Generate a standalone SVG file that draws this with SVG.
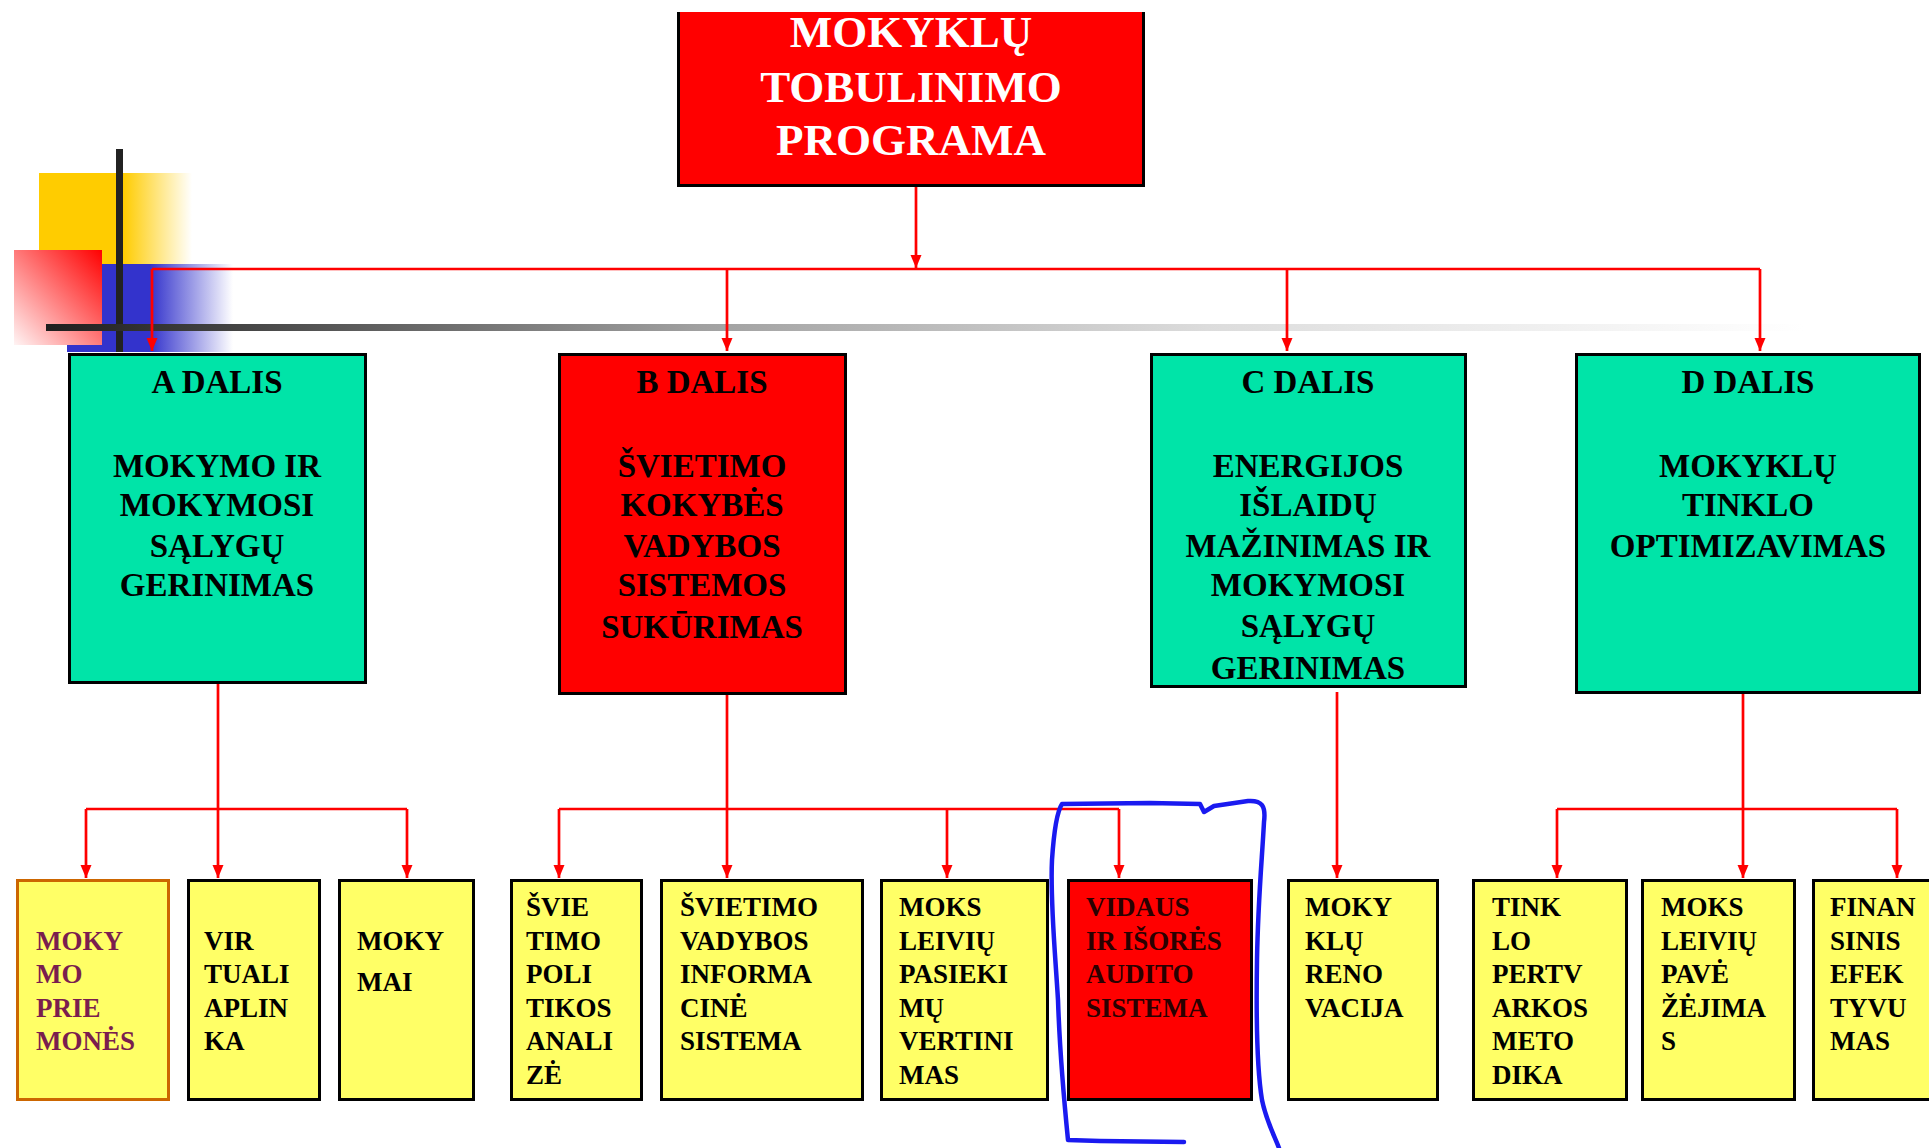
<svg xmlns="http://www.w3.org/2000/svg" width="1929" height="1148" viewBox="0 0 1929 1148">
<defs>
<style>
.box{stroke:#000;stroke-width:3}
.green{fill:#00E4A8}
.red{fill:#FF0000}
.yel{fill:#FFFF66}
.conn{stroke:#FF0000;stroke-width:2.7;fill:none}
.ttl{font-family:"Liberation Serif","Times New Roman",serif;font-weight:bold;font-size:45px;fill:#FFFFFF;text-anchor:middle}
.big{font-family:"Liberation Serif","Times New Roman",serif;font-weight:bold;font-size:33px;fill:#000;text-anchor:middle}
.sm{font-family:"Liberation Serif","Times New Roman",serif;font-weight:bold;font-size:27px;fill:#000}
</style>
<marker id="ah" markerUnits="userSpaceOnUse" markerWidth="12" markerHeight="13" viewBox="0 0 12 13" refX="6" refY="13" orient="0">
<path d="M0.5,0 L11.5,0 L6,13 Z" fill="#FF0000"/>
</marker>
<linearGradient id="gYel" x1="0" y1="0" x2="1" y2="0">
<stop offset="0" stop-color="#FFCC00"/>
<stop offset="0.55" stop-color="#FFCC00"/>
<stop offset="1" stop-color="#FFCC00" stop-opacity="0"/>
</linearGradient>
<linearGradient id="gBlue" x1="0" y1="0" x2="1" y2="0">
<stop offset="0" stop-color="#3333CC"/>
<stop offset="0.5" stop-color="#3333CC"/>
<stop offset="1" stop-color="#3333CC" stop-opacity="0"/>
</linearGradient>
<linearGradient id="gPink" x1="1" y1="0" x2="0" y2="1">
<stop offset="0" stop-color="#FF0000"/>
<stop offset="1" stop-color="#FFF4F4"/>
</linearGradient>
<linearGradient id="gBar" gradientUnits="userSpaceOnUse" x1="46" y1="0" x2="1804" y2="0">
<stop offset="0" stop-color="#1E1E1E"/>
<stop offset="0.37" stop-color="#A0A0A0"/>
<stop offset="0.66" stop-color="#DCDCDC"/>
<stop offset="1" stop-color="#FFFFFF"/>
</linearGradient>
</defs>
<rect width="1929" height="1148" fill="#FFFFFF"/>

<g id="decoration">
<rect x="39" y="173" width="153" height="91" fill="url(#gYel)"/>
<rect x="67" y="264" width="166" height="88" fill="url(#gBlue)"/>
<rect x="14" y="250" width="88" height="95" fill="url(#gPink)"/>
<rect x="116" y="149" width="7" height="203" fill="#222222"/>
<rect x="46" y="324" width="1758" height="7" fill="url(#gBar)"/>
</g>

<g id="connectors">
<path class="conn" d="M916,187 V268" marker-end="url(#ah)"/>
<path class="conn" d="M152,269 H1760"/>
<path class="conn" d="M152,269 V351" marker-end="url(#ah)"/>
<path class="conn" d="M727,269 V351" marker-end="url(#ah)"/>
<path class="conn" d="M1287,269 V351" marker-end="url(#ah)"/>
<path class="conn" d="M1760,269 V351" marker-end="url(#ah)"/>
<path class="conn" d="M218,684 V878" marker-end="url(#ah)"/>
<path class="conn" d="M86,809 H407"/>
<path class="conn" d="M86,809 V878" marker-end="url(#ah)"/>
<path class="conn" d="M407,809 V878" marker-end="url(#ah)"/>
<path class="conn" d="M727,695 V878" marker-end="url(#ah)"/>
<path class="conn" d="M559,809 H1119"/>
<path class="conn" d="M559,809 V878" marker-end="url(#ah)"/>
<path class="conn" d="M947,809 V878" marker-end="url(#ah)"/>
<path class="conn" d="M1119,809 V878" marker-end="url(#ah)"/>
<path class="conn" d="M1337,692 V878" marker-end="url(#ah)"/>
<path class="conn" d="M1743,694 V878" marker-end="url(#ah)"/>
<path class="conn" d="M1557,809 H1897"/>
<path class="conn" d="M1557,809 V878" marker-end="url(#ah)"/>
<path class="conn" d="M1897,809 V878" marker-end="url(#ah)"/>
</g>

<g id="root">
<rect x="677" y="12" width="468" height="175" fill="#FF0000"/>
<path d="M678.5,12 V185.5 H1143.5 V12" fill="none" stroke="#000" stroke-width="3"/>
<text class="ttl"><tspan x="911" y="47">MOKYKLŲ</tspan><tspan x="911" y="102">TOBULINIMO</tspan><tspan x="911" y="155">PROGRAMA</tspan></text>
</g>

<g id="partA">
<rect class="box green" x="69.5" y="354.5" width="296" height="328"/>
<text class="big"><tspan x="217" y="393">A DALIS</tspan><tspan x="217" y="477">MOKYMO IR</tspan><tspan x="217" y="516">MOKYMOSI</tspan><tspan x="217" y="557">SĄLYGŲ</tspan><tspan x="217" y="596">GERINIMAS</tspan></text>
</g>

<g id="partB">
<rect class="box red" x="559.5" y="354.5" width="286" height="339"/>
<text class="big"><tspan x="702" y="393">B DALIS</tspan><tspan x="702" y="477">ŠVIETIMO</tspan><tspan x="702" y="516">KOKYBĖS</tspan><tspan x="702" y="557">VADYBOS</tspan><tspan x="702" y="596">SISTEMOS</tspan><tspan x="702" y="638">SUKŪRIMAS</tspan></text>
</g>

<g id="partC">
<rect class="box green" x="1151.5" y="354.5" width="314" height="332"/>
<text class="big"><tspan x="1308" y="393">C DALIS</tspan><tspan x="1308" y="477">ENERGIJOS</tspan><tspan x="1308" y="516">IŠLAIDŲ</tspan><tspan x="1308" y="557">MAŽINIMAS IR</tspan><tspan x="1308" y="596">MOKYMOSI</tspan><tspan x="1308" y="637">SĄLYGŲ</tspan><tspan x="1308" y="679">GERINIMAS</tspan></text>
</g>

<g id="partD">
<rect class="box green" x="1576.5" y="354.5" width="343" height="338"/>
<text class="big"><tspan x="1748" y="393">D DALIS</tspan><tspan x="1748" y="477">MOKYKLŲ</tspan><tspan x="1748" y="516">TINKLO</tspan><tspan x="1748" y="557">OPTIMIZAVIMAS</tspan></text>
</g>

<g id="a1">
<rect class="yel" x="17.5" y="880.5" width="151" height="219" stroke="#CC6600" stroke-width="3"/>
<text class="sm" style="fill:#7A1E4E"><tspan x="36" y="950">MOKY</tspan><tspan x="36" y="983">MO</tspan><tspan x="36" y="1017">PRIE</tspan><tspan x="36" y="1050">MONĖS</tspan></text>
</g>
<g id="a2">
<rect class="box yel" x="188.5" y="880.5" width="131" height="219"/>
<text class="sm"><tspan x="204" y="950">VIR</tspan><tspan x="204" y="983">TUALI</tspan><tspan x="204" y="1017">APLIN</tspan><tspan x="204" y="1050">KA</tspan></text>
</g>
<g id="a3">
<rect class="box yel" x="339.5" y="880.5" width="134" height="219"/>
<text class="sm"><tspan x="357" y="950">MOKY</tspan><tspan x="357" y="991">MAI</tspan></text>
</g>
<g id="b1">
<rect class="box yel" x="511.5" y="880.5" width="130" height="219"/>
<text class="sm"><tspan x="526" y="916">ŠVIE</tspan><tspan x="526" y="950">TIMO</tspan><tspan x="526" y="983">POLI</tspan><tspan x="526" y="1017">TIKOS</tspan><tspan x="526" y="1050">ANALI</tspan><tspan x="526" y="1084">ZĖ</tspan></text>
</g>
<g id="b2">
<rect class="box yel" x="661.5" y="880.5" width="201" height="219"/>
<text class="sm"><tspan x="680" y="916">ŠVIETIMO</tspan><tspan x="680" y="950">VADYBOS</tspan><tspan x="680" y="983">INFORMA</tspan><tspan x="680" y="1017">CINĖ</tspan><tspan x="680" y="1050">SISTEMA</tspan></text>
</g>
<g id="b3">
<rect class="box yel" x="881.5" y="880.5" width="166" height="219"/>
<text class="sm"><tspan x="899" y="916">MOKS</tspan><tspan x="899" y="950">LEIVIŲ</tspan><tspan x="899" y="983">PASIEKI</tspan><tspan x="899" y="1017">MŲ</tspan><tspan x="899" y="1050">VERTINI</tspan><tspan x="899" y="1084">MAS</tspan></text>
</g>
<g id="b4">
<rect class="box red" x="1068.5" y="880.5" width="183" height="219"/>
<text class="sm" style="fill:#2A0000"><tspan x="1086" y="916">VIDAUS</tspan><tspan x="1086" y="950">IR IŠORĖS</tspan><tspan x="1086" y="983">AUDITO</tspan><tspan x="1086" y="1017">SISTEMA</tspan></text>
</g>
<g id="c1">
<rect class="box yel" x="1288.5" y="880.5" width="149" height="219"/>
<text class="sm"><tspan x="1305" y="916">MOKY</tspan><tspan x="1305" y="950">KLŲ</tspan><tspan x="1305" y="983">RENO</tspan><tspan x="1305" y="1017">VACIJA</tspan></text>
</g>
<g id="d1">
<rect class="box yel" x="1473.5" y="880.5" width="153" height="219"/>
<text class="sm"><tspan x="1492" y="916">TINK</tspan><tspan x="1492" y="950">LO</tspan><tspan x="1492" y="983">PERTV</tspan><tspan x="1492" y="1017">ARKOS</tspan><tspan x="1492" y="1050">METO</tspan><tspan x="1492" y="1084">DIKA</tspan></text>
</g>
<g id="d2">
<rect class="box yel" x="1642.5" y="880.5" width="152" height="219"/>
<text class="sm"><tspan x="1661" y="916">MOKS</tspan><tspan x="1661" y="950">LEIVIŲ</tspan><tspan x="1661" y="983">PAVĖ</tspan><tspan x="1661" y="1017">ŽĖJIMA</tspan><tspan x="1661" y="1050">S</tspan></text>
</g>
<g id="d3">
<rect class="box yel" x="1813.5" y="880.5" width="130" height="219"/>
<text class="sm"><tspan x="1830" y="916">FINAN</tspan><tspan x="1830" y="950">SINIS</tspan><tspan x="1830" y="983">EFEK</tspan><tspan x="1830" y="1017">TYVU</tspan><tspan x="1830" y="1050">MAS</tspan></text>
</g>

<g id="highlight">
<path d="M1184,1142 L1100,1141 L1068,1140 C1064,1100 1060,1060 1058,1000 C1055,950 1050,900 1052,860 C1054,830 1058,810 1062,804 L1150,803 L1200,804 L1204,812 L1214,806 L1248,801 C1262,800 1266,806 1264,822 C1262,860 1258,900 1257,960 C1256,1020 1257,1070 1262,1100 C1266,1120 1274,1135 1279,1148" fill="none" stroke="#1A1AF0" stroke-width="4.5" stroke-linecap="round" stroke-linejoin="round"/>
</g>
</svg>
